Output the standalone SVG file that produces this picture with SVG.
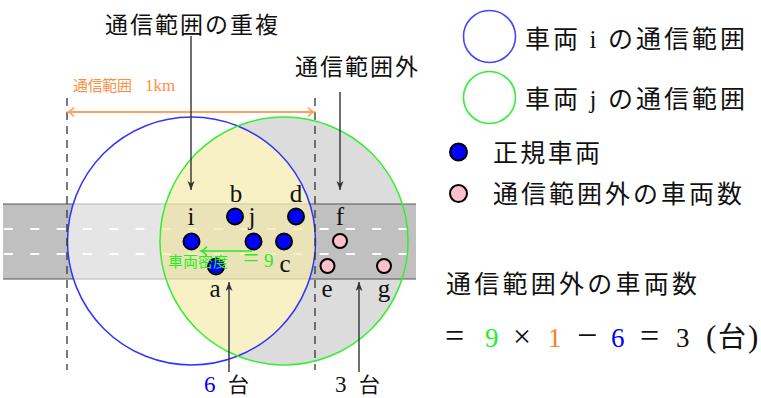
<svg xmlns="http://www.w3.org/2000/svg" width="761" height="398" viewBox="0 0 761 398">
<style>
.cjk{font-family:"Noto Sans CJK JP","Noto Sans CJK SC",sans-serif;}
.ser{font-family:"Liberation Serif",serif;}
.lbl{font-family:"Liberation Serif",serif;font-size:25px;fill:#111;text-anchor:middle;}
.veh{fill:#0000ff;stroke:#000;stroke-width:2;}
.out{fill:#ffc0cb;stroke:#000;stroke-width:2;}
.arr{stroke:#333;stroke-width:1.4;fill:none;}
.vdash{stroke:#333;stroke-width:1.3;stroke-dasharray:8 6;fill:none;}
.lane{stroke:#fff;stroke-width:2.2;stroke-dasharray:9 17.3;}
</style>
<defs>
<clipPath id="clipBlue"><circle cx="191.5" cy="241" r="124"/></clipPath>
<marker id="mk" markerUnits="userSpaceOnUse" markerWidth="10" markerHeight="8" refX="9" refY="3.5" orient="auto"><path d="M0,0 L9,3.5 L0,7 L2.5,3.5 z" fill="#333"/></marker>
<marker id="mo" markerUnits="userSpaceOnUse" markerWidth="10" markerHeight="12" refX="7" refY="5" orient="auto-start-reverse"><path d="M1,0.5 Q4,4 7,5 Q4,6 1,9.5" fill="none" stroke="#ffa060" stroke-width="1.6"/></marker>
<marker id="mg" markerUnits="userSpaceOnUse" markerWidth="10" markerHeight="12" refX="7" refY="5" orient="auto"><path d="M1,0.5 Q4,4 7,5 Q4,6 1,9.5" fill="none" stroke="#22ee22" stroke-width="1.4"/></marker>
</defs>
<rect width="761" height="398" fill="#fff"/>

<g id="coverage">
<circle cx="284" cy="241" r="124" fill="#dcdcdc"/>
<circle cx="191.5" cy="241" r="124" fill="#fff"/>
</g>

<g id="road">
<rect x="3" y="204" width="413" height="75" fill="#c0c0c0"/>
<line x1="3" y1="204" x2="416" y2="204" stroke="#555" stroke-width="1"/>
<line x1="3" y1="279" x2="416" y2="279" stroke="#555" stroke-width="1"/>
<line class="lane" x1="4" y1="229" x2="416" y2="229"/>
<line class="lane" x1="4" y1="254" x2="416" y2="254"/>
</g>

<g id="overlap">
<circle cx="191.5" cy="241" r="124" fill="#fff" fill-opacity="0.58"/>
<circle cx="284" cy="241" r="124" fill="#f0e080" fill-opacity="0.45" clip-path="url(#clipBlue)"/>
<circle cx="191.5" cy="241" r="124" fill="none" stroke="#3333ff" stroke-width="1.5"/>
<circle cx="284" cy="241" r="124" fill="none" stroke="#33ee33" stroke-width="1.5"/>
</g>

<g id="connectors">
<line class="vdash" x1="67" y1="98" x2="67" y2="370"/>
<line class="vdash" x1="315" y1="98" x2="315" y2="370"/>
<line x1="68" y1="112" x2="314" y2="112" stroke="#ffa060" stroke-width="2" marker-start="url(#mo)" marker-end="url(#mo)"/>
<line class="arr" x1="191" y1="36" x2="191" y2="190" marker-end="url(#mk)"/>
<line class="arr" x1="340" y1="92" x2="340" y2="190" marker-end="url(#mk)"/>
<line class="arr" x1="229" y1="372" x2="229" y2="282" marker-end="url(#mk)"/>
<line class="arr" x1="359" y1="372" x2="359" y2="282" marker-end="url(#mk)"/>
<line x1="252" y1="251" x2="201" y2="251" stroke="#22ee22" stroke-width="1.4" marker-end="url(#mg)"/>
</g>

<g id="vehicle-i"><circle class="veh" cx="191.5" cy="241.5" r="8"/><text class="lbl" x="191" y="225">i</text></g>
<g id="vehicle-j"><circle class="veh" cx="253.5" cy="241.5" r="8"/><text class="lbl" x="252" y="225">j</text></g>
<g id="vehicle-b"><circle class="veh" cx="235" cy="216.5" r="8"/><text class="lbl" x="236" y="202">b</text></g>
<g id="vehicle-d"><circle class="veh" cx="296" cy="216.5" r="8"/><text class="lbl" x="296" y="202">d</text></g>
<g id="vehicle-c"><circle class="veh" cx="284" cy="241.5" r="8"/><text class="lbl" x="285" y="272">c</text></g>
<g id="vehicle-a"><circle class="veh" cx="216" cy="266.5" r="8"/><text class="lbl" x="215" y="297">a</text></g>
<g id="vehicle-f"><circle class="out" cx="340" cy="241" r="7"/><text class="lbl" x="340" y="225">f</text></g>
<g id="vehicle-e"><circle class="out" cx="327.5" cy="266" r="7"/><text class="lbl" x="327" y="297">e</text></g>
<g id="vehicle-g"><circle class="out" cx="384" cy="266" r="7"/><text class="lbl" x="384" y="297">g</text></g>

<g id="density-label"><text class="cjk" x="168" y="267" font-size="15" fill="#22ee22">車両密度<tspan class="ser" x="243" font-size="28">=</tspan><tspan class="ser" x="264" font-size="19">9</tspan></text></g>
<g id="range-label"><text class="cjk" x="73" y="91" font-size="15" fill="#ff9040"><tspan textLength="59" lengthAdjust="spacing">通信範囲</tspan><tspan class="ser" x="145" font-size="17">1km</tspan></text></g>
<g id="title-overlap"><text class="cjk" x="105" y="33" font-size="23" fill="#111" textLength="173" lengthAdjust="spacing">通信範囲の重複</text></g>
<g id="title-outside"><text class="cjk" x="295" y="75" font-size="23" fill="#111" textLength="123" lengthAdjust="spacing">通信範囲外</text></g>
<g id="count-6"><text x="204" y="392" font-size="23" class="ser" fill="#0000ff">6</text><text class="cjk" x="228" y="392" font-size="21" fill="#111">台</text></g>
<g id="count-3"><text x="335" y="392" font-size="23" class="ser" fill="#111">3</text><text class="cjk" x="359" y="392" font-size="21" fill="#111">台</text></g>

<g id="legend">
<circle cx="489.5" cy="36.5" r="26" fill="none" stroke="#4444ff" stroke-width="1.6"/>
<text class="cjk" x="525" y="48" font-size="25" fill="#111" textLength="220" lengthAdjust="spacing">車両 <tspan class="ser">i</tspan> の通信範囲</text>
<circle cx="489.5" cy="97.5" r="26" fill="none" stroke="#33ee33" stroke-width="1.6"/>
<text class="cjk" x="525" y="108" font-size="25" fill="#111" textLength="220" lengthAdjust="spacing">車両 <tspan class="ser">j</tspan> の通信範囲</text>
<circle class="veh" cx="458.5" cy="152" r="8.5"/>
<text class="cjk" x="493" y="162" font-size="25" fill="#111" textLength="107" lengthAdjust="spacing">正規車両</text>
<circle class="out" cx="458.5" cy="193.5" r="8.5"/>
<text class="cjk" x="493" y="203" font-size="25" fill="#111" textLength="249" lengthAdjust="spacing">通信範囲外の車両数</text>
</g>

<g id="formula">
<text class="cjk" x="446" y="293" font-size="25" fill="#111" textLength="251" lengthAdjust="spacing">通信範囲外の車両数</text>
<text class="ser" y="347" font-size="27" fill="#111">
<tspan x="445" font-size="34">=</tspan><tspan x="485" fill="#22ee22">9</tspan><tspan x="513" font-size="32">×</tspan><tspan x="548" fill="#ff8020">1</tspan><tspan x="577" font-size="36">−</tspan><tspan x="611" fill="#0000ff">6</tspan><tspan x="640" font-size="34">=</tspan><tspan x="676">3</tspan><tspan x="706" font-size="31">(</tspan><tspan x="718" class="cjk" font-size="28">台</tspan><tspan x="748" font-size="31">)</tspan>
</text>
</g>
</svg>
